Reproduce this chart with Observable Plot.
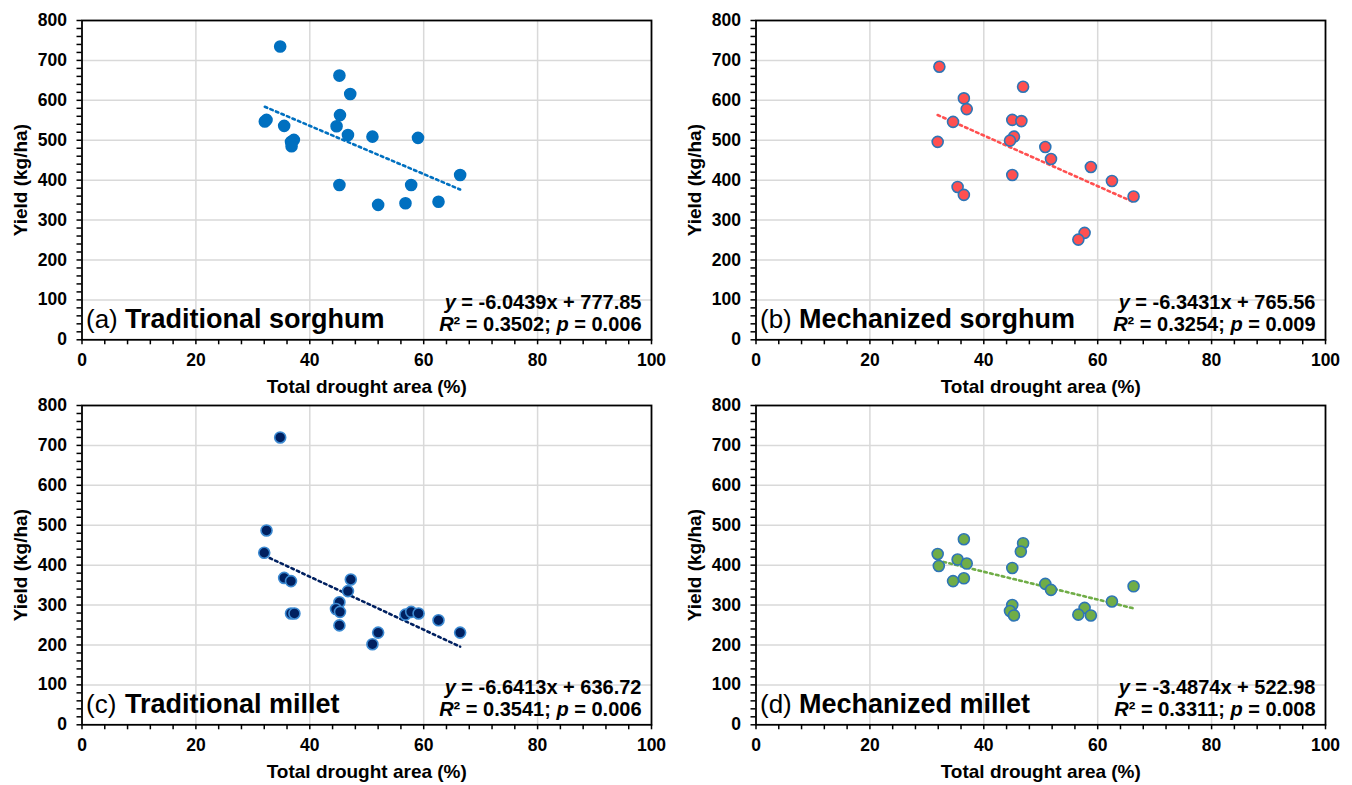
<!DOCTYPE html>
<html>
<head>
<meta charset="utf-8">
<script src="https://cdn.jsdelivr.net/npm/d3@7"></script>
<script src="https://cdn.jsdelivr.net/npm/@observablehq/plot@0.6"></script>
<style>
  html, body { margin: 0; padding: 0; background: #fff; }
  #wrap { position: relative; width: 1352px; height: 785px; background: #fff; overflow: hidden; }
  .panel { position: absolute; }
  .panel svg { overflow: visible; font-family: "Liberation Sans", Arial, Helvetica, sans-serif; }
  g[aria-label$="tick label"] { font-weight: bold; font-size: 17.5px; }
  tspan.it { font-style: italic; }
</style>
</head>
<body>
<div id="wrap"></div>
<script>
// ---------- data ----------
const xTicks = [0, 20, 40, 60, 80, 100];
const yTicks = [0, 100, 200, 300, 400, 500, 600, 700, 800];
const xGridVals = [20, 40, 60, 80];
const yGridVals = [100, 200, 300, 400, 500, 600, 700];
const xMinor = d3.range(0, 101, 4);
const yMinor = d3.range(0, 801, 20);

// (a) Traditional sorghum
const droughtA = [34.8, 45.2, 47.1, 45.3, 44.7, 46.7, 51.0, 59.0, 32.1, 32.4, 35.5, 37.2, 36.7, 36.8, 45.2, 57.8, 66.4, 52.0, 56.8, 62.6];
const yieldA   = [735, 662, 616, 563, 535, 513, 509, 506, 547, 551, 536, 501, 496, 485, 388, 388, 413, 338, 342, 346];
// (b) Mechanized sorghum
const droughtB = [32.2, 46.9, 36.5, 37.0, 34.6, 45.0, 46.6, 45.3, 44.6, 31.9, 50.8, 51.8, 58.8, 62.5, 66.3, 45.0, 35.4, 36.5, 57.7, 56.6];
const yieldB   = [684, 634, 605, 578, 546, 551, 548, 509, 499, 496, 483, 453, 433, 398, 359, 413, 383, 363, 268, 251];
// (c) Traditional millet
const droughtC = [34.8, 32.4, 32.0, 35.5, 36.7, 36.7, 37.3, 47.2, 46.7, 45.2, 44.6, 45.3, 45.2, 51.0, 52.0, 56.8, 57.8, 59.1, 62.6, 66.4];
const yieldC   = [720, 487, 431, 368, 360, 279, 279, 364, 335, 307, 290, 283, 249, 202, 231, 276, 283, 279, 262, 231];
// (d) Mechanized millet
const droughtD = [36.5, 46.9, 46.5, 31.9, 35.4, 37.0, 32.1, 45.0, 34.6, 36.5, 50.8, 51.8, 66.3, 62.5, 45.0, 44.6, 45.3, 57.7, 56.6, 58.8];
const yieldD   = [465, 455, 434, 428, 414, 404, 398, 393, 360, 367, 353, 338, 347, 309, 300, 285, 274, 293, 276, 274];

const slopes     = [-6.0439, -6.3431, -6.6413, -3.4874];
const intercepts = [777.85, 765.56, 636.72, 522.98];
const r2s        = ["0.3502", "0.3254", "0.3541", "0.3311"];
const pvals      = ["0.006", "0.009", "0.006", "0.008"];
const tags       = ["(a)", "(b)", "(c)", "(d)"];
const names      = ["Traditional sorghum", "Mechanized sorghum", "Traditional millet", "Mechanized millet"];
const xTitle = "Total drought area (%)";
const yTitle = "Yield (kg/ha)";

// styles
const dotFill   = ["#0070C0", "#FF5050", "#002060", "#70AD47"];
const dotStroke = ["#0070C0", "#2E75B6", "#3C8AD2", "#2E75B6"];
const lineColor = ["#0070C0", "#FF5050", "#002060", "#70AD47"];
const positions = [[0, 0], [674, 0], [0, 385], [674, 385]];

const allX = [droughtA, droughtB, droughtC, droughtD];
const allY = [yieldA, yieldB, yieldC, yieldD];

function makePanel(i) {
  const xs = allX[i], ys = allY[i];
  const data = xs.map((x, k) => ({x, y: ys[k]}));
  const x0 = d3.min(xs), x1 = d3.max(xs);
  const trend = [x0, x1].map(x => ({x, y: slopes[i] * x + intercepts[i]}));
  const eqRest = " = " + String(slopes[i]) + "x + " + intercepts[i].toFixed(2);
  const eq1 = "y" + eqRest;
  const eq2 = "R² = " + r2s[i] + "; p = " + pvals[i];
  const font = '"Liberation Sans", Arial, Helvetica, sans-serif';

  const svg = Plot.plot({
    width: 676,
    height: 392.5,
    marginTop: 20,
    marginBottom: 53.2,
    marginLeft: 81.5,
    marginRight: 25,
    style: {fontFamily: font, background: "transparent", overflow: "visible"},
    x: {domain: [0, 100]},
    y: {domain: [0, 800]},
    marks: [
      Plot.gridX(xGridVals, {stroke: "#d9d9d9", strokeOpacity: 1, strokeWidth: 1.5}),
      Plot.gridY(yGridVals, {stroke: "#d9d9d9", strokeOpacity: 1, strokeWidth: 1.5}),
      Plot.axisX(xMinor, {tickSize: 5, tickFormat: () => "", strokeWidth: 1.5, stroke: "#000", label: null}),
      Plot.axisY(yMinor, {tickSize: 5, tickFormat: () => "", strokeWidth: 1.5, stroke: "#000", label: null}),
      Plot.axisX(xTicks, {tickSize: 0, tickPadding: 14, fontSize: 17.5, fontWeight: "bold", fill: "#000", label: null}),
      Plot.axisY(yTicks, {tickSize: 0, tickPadding: 15, fontSize: 17.5, fontWeight: "bold", fill: "#000", label: null}),
      Plot.frame({stroke: "#000", strokeWidth: 1.8}),
      Plot.line(trend, {x: "x", y: "y", stroke: lineColor[i], strokeWidth: 2.6, strokeDasharray: "2.6,3.4"}),
      Plot.dot(data, {x: "x", y: "y", r: 5.5, fill: dotFill[i], stroke: dotStroke[i], strokeWidth: 1.6, fillOpacity: 1}),
      Plot.text([yTitle], {text: d => d, frameAnchor: "left", dx: -61, rotate: -90, fontSize: 19, fontWeight: "bold", fill: "#000", lineAnchor: "middle", textAnchor: "middle"}),
      Plot.text([xTitle], {text: d => d, frameAnchor: "bottom", dy: 47, fontSize: 19, fontWeight: "bold", fill: "#000", lineAnchor: "middle", textAnchor: "middle"}),
      Plot.text([tags[i]], {text: d => d, frameAnchor: "bottom-left", dx: 4, dy: -20, fontSize: 26, fill: "#000", lineAnchor: "middle", textAnchor: "start"}),
      Plot.text([names[i]], {text: d => d, frameAnchor: "bottom-left", dx: 43, dy: -20, fontSize: 27, fontWeight: "bold", fill: "#000", lineAnchor: "middle", textAnchor: "start"}),
      Plot.text([eq1], {text: d => d, frameAnchor: "bottom-right", dx: -10, dy: -37, fontSize: 20, fontWeight: "bold", fill: "#000", lineAnchor: "middle", textAnchor: "end"}),
      Plot.text([eq2], {text: d => d, frameAnchor: "bottom-right", dx: -10, dy: -15, fontSize: 20, fontWeight: "bold", fill: "#000", lineAnchor: "middle", textAnchor: "end"})
    ]
  });

  // italic parts of the equation text
  d3.select(svg).selectAll("text").each(function() {
    const t = d3.select(this);
    const s = this.textContent;
    if (s === eq1) {
      t.text(null);
      t.append("tspan").attr("class", "it").attr("font-style", "italic").text("y");
      t.append("tspan").text(eqRest);
    } else if (s === eq2) {
      t.text(null);
      t.append("tspan").attr("class", "it").attr("font-style", "italic").text("R");
      t.append("tspan").text("² = " + r2s[i] + "; ");
      t.append("tspan").attr("class", "it").attr("font-style", "italic").text("p");
      t.append("tspan").text(" = " + pvals[i]);
    }
  });

  const div = document.createElement("div");
  div.className = "panel";
  div.style.left = positions[i][0] + "px";
  div.style.top = positions[i][1] + "px";
  div.appendChild(svg);
  document.getElementById("wrap").appendChild(div);
}

for (let i = 0; i < 4; i++) makePanel(i);
</script>
</body>
</html>
